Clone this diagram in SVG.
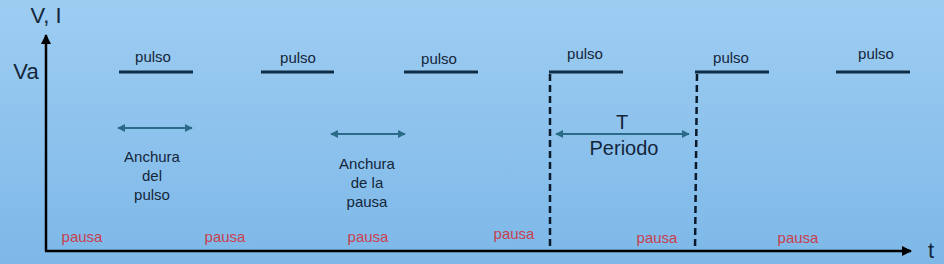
<svg xmlns="http://www.w3.org/2000/svg" width="944" height="264" viewBox="0 0 944 264">
  <defs>
    <linearGradient id="bg" x1="0" y1="0" x2="0" y2="1">
      <stop offset="0" stop-color="#9ecdf2"/>
      <stop offset="1" stop-color="#7db8e8"/>
    </linearGradient>
    <marker id="axisHead" viewBox="0 0 10 10" refX="9" refY="5" markerWidth="4" markerHeight="4" orient="auto" markerUnits="strokeWidth">
      <path d="M0,0 L10,5 L0,10 Z" fill="#000"/>
    </marker>
    <marker id="dimHead" viewBox="0 0 10 10" refX="9" refY="5" markerWidth="4" markerHeight="4" orient="auto-start-reverse" markerUnits="strokeWidth">
      <path d="M0,0 L10,5 L0,10 Z" fill="#2a6b87"/>
    </marker>
  </defs>
  <style>
    .pulse { stroke: #0f2d44; stroke-width: 3; fill: none; }
    .dash { stroke: #0a1a2a; stroke-width: 2.5; stroke-dasharray: 7 4; fill: none; }
    .axis { stroke: #000; stroke-width: 2.5; fill: none; }
    .dim { stroke: #2a6b87; stroke-width: 2; fill: none; }
    .lbl { font-family: "Liberation Sans", Arial, sans-serif; font-size: 15px; fill: #14263a; text-anchor: middle; }
    .pausa { font-family: "Liberation Sans", Arial, sans-serif; font-size: 15px; fill: #c8404f; text-anchor: middle; }
    .big { font-family: "Liberation Sans", Arial, sans-serif; font-size: 20px; fill: #14263a; text-anchor: middle; }
  </style>
  <rect x="0" y="0" width="944" height="264" fill="url(#bg)"/>

  <g id="connectors">
    <line class="axis" x1="46" y1="251" x2="46" y2="35" marker-end="url(#axisHead)"/>
    <line class="axis" x1="45" y1="251" x2="911" y2="251" marker-end="url(#axisHead)"/>
    <line class="dash" x1="550" y1="74" x2="550" y2="250"/>
    <line class="dash" x1="697" y1="74" x2="695" y2="250"/>
    <line class="dim" x1="118" y1="128" x2="192" y2="128" marker-start="url(#dimHead)" marker-end="url(#dimHead)"/>
    <line class="dim" x1="331" y1="134" x2="405" y2="134" marker-start="url(#dimHead)" marker-end="url(#dimHead)"/>
    <line class="dim" x1="556" y1="134" x2="689" y2="134" marker-start="url(#dimHead)" marker-end="url(#dimHead)"/>
  </g>

  <g id="axis-labels">
    <text x="46" y="23" class="big" style="font-size:22px">V, I</text>
    <text x="26" y="79" class="big" style="font-size:22px">Va</text>
    <text x="931" y="258" class="big" style="font-size:22px">t</text>
  </g>

  <g id="pulse1"><line class="pulse" x1="119" y1="72" x2="193" y2="72"/><text class="lbl" x="153" y="62">pulso</text></g>
  <g id="pulse2"><line class="pulse" x1="261" y1="72" x2="334" y2="72"/><text class="lbl" x="298" y="63">pulso</text></g>
  <g id="pulse3"><line class="pulse" x1="404" y1="72" x2="478" y2="72"/><text class="lbl" x="439" y="64">pulso</text></g>
  <g id="pulse4"><line class="pulse" x1="549" y1="72" x2="623" y2="72"/><text class="lbl" x="585" y="59">pulso</text></g>
  <g id="pulse5"><line class="pulse" x1="695" y1="72" x2="769" y2="72"/><text class="lbl" x="731" y="63">pulso</text></g>
  <g id="pulse6"><line class="pulse" x1="836" y1="72" x2="910" y2="72"/><text class="lbl" x="876" y="59">pulso</text></g>

  <g id="label-anchura-pulso">
    <text class="lbl" x="152" y="162">Anchura</text>
    <text class="lbl" x="152" y="181">del</text>
    <text class="lbl" x="152" y="200">pulso</text>
  </g>
  <g id="label-anchura-pausa">
    <text class="lbl" x="367" y="169">Anchura</text>
    <text class="lbl" x="367" y="188">de la</text>
    <text class="lbl" x="367" y="207">pausa</text>
  </g>
  <g id="label-periodo">
    <text class="big" x="622" y="129">T</text>
    <text class="big" x="624" y="155">Periodo</text>
  </g>

  <g id="pausas">
    <text class="pausa" x="82" y="242">pausa</text>
    <text class="pausa" x="225" y="242">pausa</text>
    <text class="pausa" x="368" y="242">pausa</text>
    <text class="pausa" x="514" y="239">pausa</text>
    <text class="pausa" x="657" y="243">pausa</text>
    <text class="pausa" x="798" y="243">pausa</text>
  </g>
</svg>
